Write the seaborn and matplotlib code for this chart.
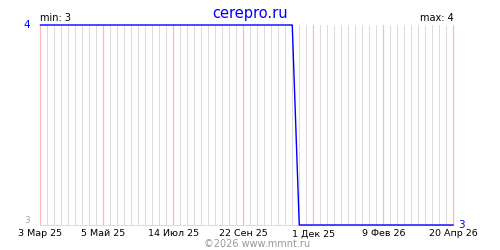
import matplotlib
matplotlib.use("Agg")
import matplotlib.pyplot as plt
import seaborn as sns
import pandas as pd

start_date = "2025-03-03"
n_weeks = 60
values = [4, 4, 4, 4, 4, 4, 4, 4, 4, 4,
          4, 4, 4, 4, 4, 4, 4, 4, 4, 4,
          4, 4, 4, 4, 4, 4, 4, 4, 4, 4,
          4, 4, 4, 4, 4, 4, 4, 3, 3, 3,
          3, 3, 3, 3, 3, 3, 3, 3, 3, 3,
          3, 3, 3, 3, 3, 3, 3, 3, 3, 3]
tick_dates = ["2025-03-03", "2025-05-05", "2025-07-14", "2025-09-22",
              "2025-12-01", "2026-02-09", "2026-04-20"]
tick_labels = ["3 Мар 25", "5 Май 25", "14 Июл 25", "22 Сен 25",
               "1 Дек 25", "9 Фев 26", "20 Апр 26"]
title = "cerepro.ru"
credit = "©2026 www.mmnt.ru"

dates = pd.date_range(start_date, periods=n_weeks, freq="7D")
major = pd.to_datetime(tick_dates)
minor = dates[~dates.isin(major)]
df = pd.DataFrame({"date": dates, "value": values})

sns.set_style("white")
plt.rcParams["font.family"] = ["DejaVu Sans"]

fig = plt.figure(figsize=(5, 2.5), dpi=100)
ax = fig.add_axes([0.0805, 0.1, 0.826, 0.8])

sns.lineplot(data=df, x="date", y="value", ax=ax, color="#0000ff", linewidth=1.0, zorder=5)
for ln in ax.get_lines():
    ln.set_clip_on(False)

ax.set_xlim(dates[0], dates[-1])
ax.set_ylim(3, 4)
ax.set_xticks(major)
ax.set_xticklabels(tick_labels, fontsize=6.8, color="black")
ax.set_xticks(minor, minor=True)
ax.grid(which="minor", axis="x", color="#dcdcdc", linewidth=0.75)
ax.grid(which="major", axis="x", color="#ffb8b8", linewidth=0.9)
ax.grid(which="both", axis="y", visible=False)
for gl in ax.xaxis.get_gridlines():
    gl.set_clip_on(False)
ax.tick_params(axis="x", which="both", length=0, pad=3)
ax.set_yticks([])
ax.set_xlabel("")
ax.set_ylabel("")
for s in ["top", "left", "right"]:
    ax.spines[s].set_visible(False)
ax.spines["bottom"].set_color("#dcdcdc")
ax.spines["bottom"].set_linewidth(0.75)

ax.text(-0.025, 1.0, "4", transform=ax.transAxes, ha="right", va="center",
        fontsize=7.5, color="#0000ff")
ax.text(-0.025, 0.0, "3", transform=ax.transAxes, ha="right", va="bottom",
        fontsize=6.5, color="#aaaaaa")
ax.text(1.012, 0.0, "3", transform=ax.transAxes, ha="left", va="center",
        fontsize=7.5, color="#0000ff")
ax.text(0.0, 1.01, "min: 3", transform=ax.transAxes, ha="left", va="bottom",
        fontsize=7, color="black")
ax.text(1.0, 1.01, "max: 4", transform=ax.transAxes, ha="right", va="bottom",
        fontsize=7, color="black")

fig.text(0.5, 0.975, title, ha="center", va="top", fontsize=10.5, color="#0000ff")
fig.text(0.514, 0.005, credit, ha="center", va="bottom", fontsize=7, color="#999999")

fig.savefig("out.png", dpi=100)
